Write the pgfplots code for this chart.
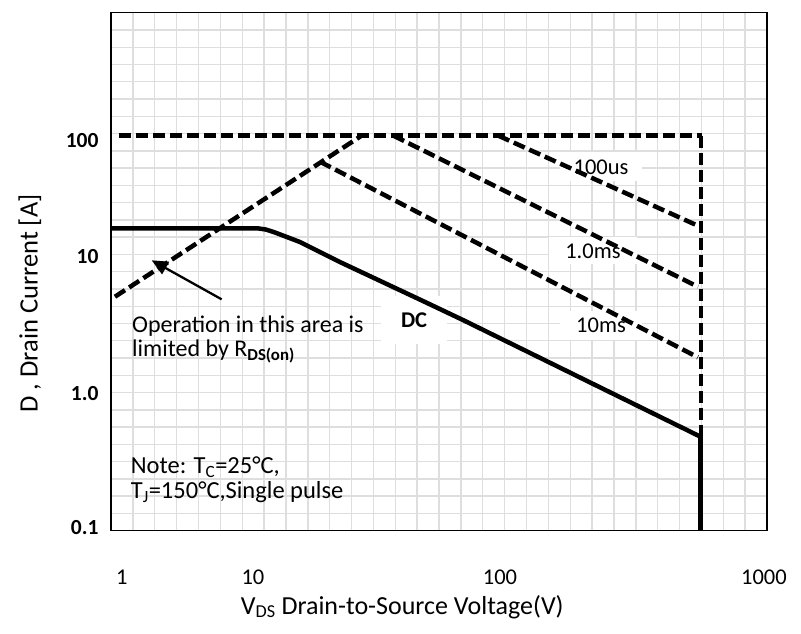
\documentclass[border=0pt]{standalone}
\usepackage{fontspec}
\setmainfont{Carlito}
\usepackage{pgfplots}
\pgfplotsset{compat=1.18}
\usetikzlibrary{arrows.meta}
\begin{document}
\begin{tikzpicture}[x=1pt,y=1pt]
\path[use as bounding box] (0,0) rectangle (801,634);
\begin{axis}[
  at={(111pt,103.3pt)}, anchor=south west,
  scale only axis, width=656pt, height=518pt,
  xmin=0, xmax=30, ymin=0, ymax=30,
  xtick={0.5,6.49,17.79,29.86}, xticklabels={1,10,100,1000},
  ytick={0.21,7.97,15.9,22.62}, yticklabels={0.1,1.0,10,100},
  minor xtick={0,1,...,30}, minor ytick={0,1,...,30},
  tick style={draw=none},
  grid=minor,
  minor grid style={line width=1.4pt, black!13},
  axis line style={line width=1.4pt},
  xticklabel style={font=\fontsize{22.5}{26}\selectfont, anchor=center, yshift=-47pt},
  yticklabel style={font=\fontsize{21.5}{24}\selectfont\bfseries, anchor=east, xshift=-9pt},
  xlabel={V\textsubscript{DS} Drain-to-Source Voltage(V)},
  xlabel style={at={(axis description cs:0.444,-0.147)}, anchor=center, font=\fontsize{26}{30}\selectfont},
  ylabel={D , Drain Current [A]},
  ylabel style={at={(axis description cs:-0.1235,0.4386)}, anchor=center, font=\fontsize{26.5}{30}\selectfont},
  clip=false,
]
% white label boxes
\node[fill=white, inner sep=0pt, minimum width=82pt, minimum height=29pt, font=\fontsize{22.5}{26}\selectfont] at (axis cs:22.41,21.07) {100us};
\node[fill=white, inner sep=0pt, minimum width=88pt, minimum height=27pt, font=\fontsize{22.5}{26}\selectfont] at (axis cs:22.04,16.20) {1.0ms};
\node[fill=white, inner sep=0pt, minimum width=82pt, minimum height=29pt, font=\fontsize{22.5}{26}\selectfont] at (axis cs:22.41,11.91) {10ms};
\node[fill=white, inner sep=0pt, minimum width=66pt, minimum height=48pt, font=\fontsize{22.5}{26}\selectfont\bfseries] at (axis cs:13.86,12.19) {DC};

% boundary: top limit and vertical voltage limit (dashed)
\addplot[black, line width=4.5pt, dash pattern=on 12pt off 5pt] coordinates {(0.37,22.88) (27.05,22.88)};
\addplot[black, line width=4.5pt, dash pattern=on 12pt off 5pt] coordinates {(26.98,22.88) (26.98,5.43)};
% RDS(on) limit
\addplot[black, line width=4.5pt, dash pattern=on 12pt off 5pt] coordinates {(0.18,13.55) (11.46,22.88)};
% 100us
\addplot[black, line width=4.5pt, dash pattern=on 12pt off 5pt] coordinates {(17.71,22.88) (26.86,17.65)};
% 1.0ms
\addplot[black, line width=4.5pt, dash pattern=on 12pt off 5pt] coordinates {(12.91,22.88) (26.84,14.13)};
% 10ms
\addplot[black, line width=4.5pt, dash pattern=on 12pt off 5pt] coordinates {(9.56,21.37) (26.84,10.04)};
% DC
\addplot[black, line width=4.5pt, line join=round] coordinates {
 (0,17.51) (6.72,17.51) (7.09,17.44) (7.50,17.27) (8.64,16.72) (10.47,15.56)
 (14.27,13.30) (16.10,12.20) (26.98,5.43)};
\addplot[black, line width=5pt] coordinates {(26.98,5.50) (26.98,0.04)};
% arrow
\addplot[black, line width=2.3pt, -{Triangle[length=16pt,width=14pt]}] coordinates {(5.06,13.40) (1.86,15.66)};

\node[anchor=west, inner sep=0pt, align=left, font=\fontsize{24}{24}\selectfont] at (axis cs:0.96,11.10)
  {Operation in this area is\\limited by R\textsubscript{\textbf{DS(on)}}};
\node[anchor=west, inner sep=0pt, align=left, font=\fontsize{24.5}{25}\selectfont] at (axis cs:0.90,2.93)
  {Note: T\textsubscript{C}=25°C,\\T\textsubscript{J}=150°C,Single pulse};
\end{axis}
\end{tikzpicture}
\end{document}
